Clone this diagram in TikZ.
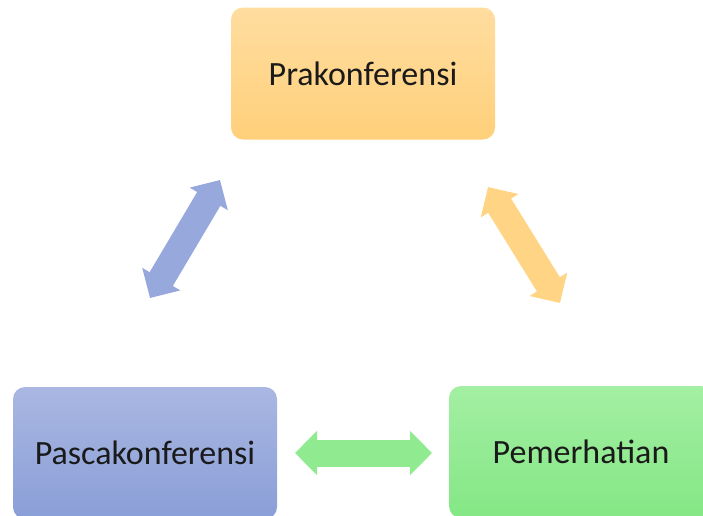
\documentclass[tikz,border=0pt]{standalone}
\usepackage{fontspec}
\setmainfont{Carlito}
\usetikzlibrary{arrows.meta}
\definecolor{orgt}{HTML}{FFDD9F}
\definecolor{orgb}{HTML}{FFD07B}
\definecolor{blut}{HTML}{A9B7E2}
\definecolor{blub}{HTML}{8A9ED7}
\definecolor{grnt}{HTML}{A3EFA3}
\definecolor{grnb}{HTML}{84E784}
\definecolor{orga}{HTML}{FFD585}
\definecolor{blua}{HTML}{97A8DC}
\definecolor{grna}{HTML}{90EB90}
\definecolor{txt}{HTML}{1A1A1A}

\begin{document}
\begin{tikzpicture}[x=1pt,y=-1pt,font=\fontsize{34}{40}\selectfont,
    stagebox/.style={rounded corners=12pt,minimum width=264pt,minimum height=132pt,inner sep=0pt,text=txt},
    cycarrow/.style={line width=27pt,{Triangle[width=43pt,length=22pt]}-{Triangle[width=43pt,length=22pt]}}]
    \useasboundingbox (0,0) rectangle (703,515);
    \node[stagebox,top color=orgt,bottom color=orgb] (pra) at (363,73.5) {Prakonferensi};
    \node[stagebox,top color=blut,bottom color=blub] (pasca) at (145,453) {Pascakonferensi};
    \node[stagebox,top color=grnt,bottom color=grnb] (pem) at (581,452) {Pemerhatian};
    % arrow ends
    \coordinate (bl1) at (150,298);
    \coordinate (bl2) at (220,180);
    \coordinate (or1) at (488,187);
    \coordinate (or2) at (560,303);
    \coordinate (gr1) at (295,453);
    \coordinate (gr2) at (432,453);
    \draw[cycarrow,blua] (bl1)--(bl2);
    \draw[cycarrow,orga] (or1)--(or2);
    \draw[cycarrow,grna] (gr1)--(gr2);
  \end{tikzpicture}
\end{document}
